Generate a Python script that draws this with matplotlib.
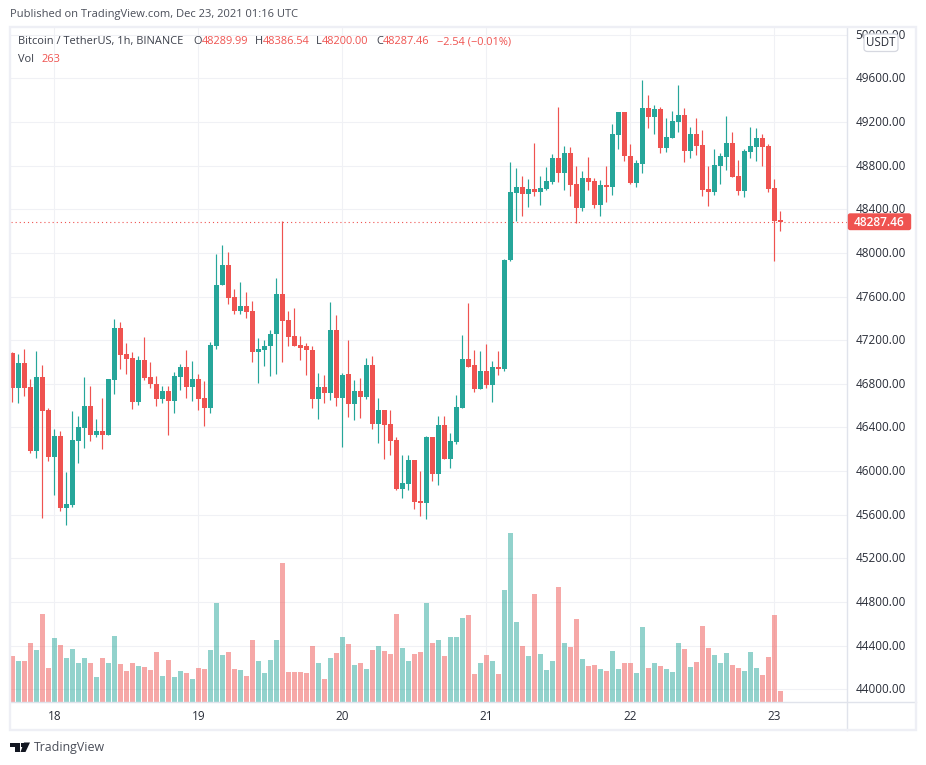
import matplotlib
matplotlib.use("Agg")
import matplotlib.pyplot as plt
from matplotlib.lines import Line2D
from matplotlib.patches import Rectangle, FancyBboxPatch, Polygon
from matplotlib.transforms import ScaledTranslation

opens = [47084,46763,46993,46773,46186,46864,46562,46131,46324,45664,
 45691,46278,46397,46599,46333,46369,46333,46837,47313,47075,
 47038,46635,47020,46864,46800,46663,46736,46644,46864,46956,
 46773,46846,46672,46580,47142,47710,47893,47600,47471,47517,
 47471,47096,47114,47151,47252,47627,47389,47242,47160,47142,
 47114,46665,46775,46720,47297,46674,46892,46617,46736,46681,
 46974,46434,46562,46434,46287,45838,45884,46104,45728,45710,
 46314,45975,46424,46113,46269,46580,47029,46974,46754,46919,
 46791,46956,46938,47937,48549,48604,48540,48585,48558,48585,
 48650,48869,48732,48915,48631,48411,48686,48659,48439,48622,
 48604,49080,49291,48888,48640,48814,49328,49245,49319,48961,
 49053,49199,49264,48934,49089,48989,48585,48558,48796,48879,
 49007,48705,48567,48924,48970,49053,48979,48595,48289.99]
closes = [46763,46993,46763,46186,46864,46553,46131,46324,45664,45700,
 46287,46406,46599,46333,46369,46333,46846,47313,47066,47029,
 46635,47020,46855,46800,46663,46736,46644,46873,46956,46773,
 46846,46663,46580,47158,47710,47893,47591,47471,47517,47462,
 47096,47123,47151,47261,47627,47380,47233,47151,47132,47114,
 46665,46775,46720,47297,46674,46885,46617,46736,46681,46974,
 46434,46562,46424,46278,45838,45893,46104,45719,45710,46314,
 45975,46424,46113,46278,46589,47029,46956,46754,46919,46791,
 46956,46938,47937,48558,48604,48540,48585,48558,48595,48659,
 48869,48732,48915,48622,48411,48686,48650,48439,48622,48604,
 49089,49291,48888,48640,48824,49328,49245,49319,48961,49062,
 49209,49264,48934,49089,48979,48576,48558,48805,48888,49007,
 48695,48567,48934,48979,49053,48970,48585,48290,48287.46]
highs = [47093,47075,47121,46846,47103,46974,46580,46388,46369,45994,
 46553,46507,46864,46782,46479,46672,46846,47396,47368,47176,
 47093,47057,47231,47002,46873,46782,46782,46910,46983,47112,
 47011,46892,46828,47185,47994,48076,48012,47673,47737,47646,
 47563,47224,47197,47297,47774,48296,47471,47499,47242,47178,
 47151,46903,46885,47554,47435,46903,47203,46837,46855,47038,
 47057,46672,46562,46562,46314,46149,46149,46104,46003,46324,
 46314,46507,46507,46351,46699,47249,47543,47112,47103,47167,
 47011,47103,47946,48833,48778,48705,48677,49007,48705,48787,
 48906,49337,48979,48970,48796,48750,48879,48686,48668,48796,
 49181,49291,49291,48998,48851,49584,49447,49355,49337,49236,
 49300,49539,49328,49154,49236,49126,48796,48952,48915,49254,
 49108,48851,48952,49154,49144,49089,48998,48677,48386.54]
lows = [46635,46626,46690,46168,46122,45572,46094,45783,45636,45508,
 45673,46076,46214,46278,46314,46204,46333,46708,46938,46892,
 46571,46608,46837,46763,46599,46626,46333,46534,46745,46672,
 46644,46562,46415,46534,47123,47710,47536,47444,47444,47407,
 47004,46812,46967,46867,46894,47004,47151,47151,47022,46885,
 46582,46482,46628,46656,46601,46225,46498,46470,46489,46663,
 46388,46259,46113,46149,45829,45755,45829,45655,45590,45563,
 45911,45874,46113,46030,46250,46580,46956,46727,46754,46763,
 46635,46883,46919,47925,48292,48338,48420,48521,48439,48576,
 48631,48650,48576,48521,48274,48384,48576,48411,48338,48466,
 48530,48952,48842,48631,48604,48732,49144,49089,48915,48924,
 49053,49108,48833,48869,48897,48521,48430,48530,48631,48759,
 48695,48530,48512,48869,48842,48796,48558,47925,48200]
volumes = [1074,959,959,1376,1214,2048,796,1492,1330,1028,
 1237,912,1028,912,587,1028,912,1538,889,727,
 912,843,819,750,1167,611,982,587,727,680,
 541,796,773,1214,2304,1098,1167,773,750,611,
 1446,959,680,982,1446,3231,703,703,703,680,
 1306,912,541,1028,1144,1515,1353,866,912,773,
 1214,1306,1190,1121,2048,1260,959,1121,1167,2304,
 1376,1446,1074,1515,1515,1956,2025,657,912,1098,
 959,657,2605,3927,1863,1306,1074,2512,1121,750,
 959,2675,1376,1283,1933,1005,843,866,773,727,
 1190,773,912,912,680,1747,796,912,843,773,
 703,1376,1237,819,935,1770,1260,1098,912,1144,
 866,796,727,1167,796,634,1051,2025,263]
day_labels = ["18", "19", "20", "21", "22", "23"]
day_index = [7, 31, 55, 79, 103, 127]
price_ticks = [44000 + 400 * k for k in range(16)]
last_price = 48287.46

GREEN, RED = "#26a69a", "#ef5350"
GRID, SEP, FRAME = "#f0f1f5", "#e0e3eb", "#eeeff5"
TXT = "#2a2e39"
FONT = "Open Sans"
plt.rcParams["font.family"] = [FONT, "DejaVu Sans"]

W, H = 926, 765
fig = plt.figure(figsize=(W / 100, H / 100), dpi=100, facecolor="white")
L, R, T, B = 11, 846.5, 28, 702


def fx(x):
    return x / W


def fy(y):
    return 1 - y / H


rect = [fx(L), fy(B), fx(R) - fx(L), fy(T) - fy(B)]
ax = fig.add_axes(rect, zorder=1)
ax.set_facecolor("white")
ax.set_xlim((L - 12.3) / 6, (R - 12.3) / 6)
ax.set_ylim(49600 - (B - 78.3) * 9.165, 49600 - (T - 78.3) * 9.165)
for s in ax.spines.values():
    s.set_visible(False)
ax.set_axisbelow(True)
ax.grid(True, color=GRID, lw=0.8)
ax.yaxis.tick_right()
ax.set_yticks(price_ticks, [f"{p:.2f}" for p in price_ticks])
ax.set_xticks(day_index, day_labels)
ax.tick_params(length=0, labelsize=8.5, labelcolor=TXT)
ax.tick_params(axis="y", pad=6.5)
ax.tick_params(axis="x", pad=5.5)
up_shift = ScaledTranslation(0, 1 / 100, fig.dpi_scale_trans)
for lab in ax.get_yticklabels():
    lab.set_transform(lab.get_transform() + up_shift)

idx = list(range(len(opens)))
colors = [GREEN if c >= o else RED for o, c in zip(opens, closes)]
ax.vlines(idx, lows, highs, colors=colors, lw=0.85, zorder=3)
ax.bar(idx, [max(abs(c - o), 10) for o, c in zip(opens, closes)],
       bottom=[min(o, c) for o, c in zip(opens, closes)],
       width=5 / 6, color=colors, linewidth=0, zorder=4)
ax.axhline(last_price, color=RED, lw=0.8, ls=(0, (1, 2.7)), zorder=2)

ax2 = fig.add_axes(rect, zorder=2, sharex=ax)
ax2.patch.set_visible(False)
ax2.axis("off")
ax2.set_ylim(0, (B - T) * 23.2)
ax2.bar(idx, volumes, width=5 / 6, color=colors, alpha=0.5, linewidth=0)

# frame and separators
for x0, y0, x1, y1, c, lw in [
    (R, T, R, 730, SEP, 1.0),
    (L, B, 916, B, SEP, 1.0),
]:
    fig.add_artist(Line2D([fx(x0), fx(x1)], [fy(y0), fy(y1)], color=c, lw=lw, zorder=5))
fig.add_artist(Rectangle((fx(10), fy(730)), fx(906), fy(26.5) - fy(730), fill=False,
                         edgecolor=FRAME, lw=1.7, transform=fig.transFigure, zorder=5))

# last price label
fig.add_artist(FancyBboxPatch((fx(848.5), fy(229.5)), fx(62), fy(214) - fy(229.5),
                              boxstyle="round,pad=0,rounding_size=0.002",
                              facecolor=RED, edgecolor=RED, lw=1,
                              transform=fig.transFigure, zorder=6))
fig.text(fx(879.5), fy(222), f"{last_price:.2f}", color="white", fontsize=8.6,
         ha="center", va="center", fontweight="semibold", zorder=7)

# USDT badge
fig.add_artist(FancyBboxPatch((fx(864), fy(51.5)), fx(34), fy(34) - fy(51.5),
                              boxstyle="round,pad=0,rounding_size=0.004",
                              facecolor="white", edgecolor="#d6d8e0", lw=0.9,
                              transform=fig.transFigure, zorder=6))
fig.text(fx(881), fy(43), "USDT", color=TXT, fontsize=8.3, ha="center", va="center", zorder=7)

# header texts
fig.text(fx(10), fy(15), "Published on TradingView.com, Dec 23, 2021 01:16 UTC",
         color="#4a4e59", fontsize=8.05, va="center", zorder=7)
LEG = 7.95
fig.text(fx(18), fy(41.5), "Bitcoin / TetherUS, 1h, BINANCE", color="#3a3e49",
         fontsize=LEG, va="center", zorder=7)
for x, label, val in [(193, "O", "48289.99"), (255, "H", "48386.54"),
                      (316, "L", "48200.00"), (376, "C", "48287.46")]:
    t = fig.text(fx(x), fy(41.5), label, color="#3a3e49", fontsize=LEG, va="center", zorder=7)
    fig.canvas.draw()
    w = t.get_window_extent().width
    fig.text(fx(x + w), fy(41.5), val, color=RED, fontsize=LEG, va="center", zorder=7)
fig.text(fx(437), fy(41.5), "\u22122.54 (\u22120.01%)", color=RED, fontsize=LEG, va="center", zorder=7)
fig.text(fx(18), fy(59), "Vol", color="#3a3e49", fontsize=LEG, va="center", zorder=7)
fig.text(fx(41), fy(59), "263", color=RED, fontsize=LEG, va="center", zorder=7)

# TradingView logo
logo = "#131722"
for pts in [[(10, 742.5), (20, 742.5), (20, 752), (15, 752), (15, 746.5), (10, 746.5)],
            [(24, 742.5), (30, 742.5), (25.5, 752), (20.5, 752)]]:
    fig.add_artist(Polygon([(fx(x), fy(y)) for x, y in pts], closed=True, facecolor=logo,
                           edgecolor="none", transform=fig.transFigure, zorder=7))
fig.add_artist(Rectangle((fx(20.5), fy(746.5)), fx(3.6), fy(742.5) - fy(746.5),
                         facecolor=logo, edgecolor="none", transform=fig.transFigure, zorder=7))
fig.text(fx(33.5), fy(747.5), "TradingView", color="#4a4e59", fontsize=8.9, va="center", zorder=7)

fig.savefig("out.png", dpi=100, facecolor="white")
